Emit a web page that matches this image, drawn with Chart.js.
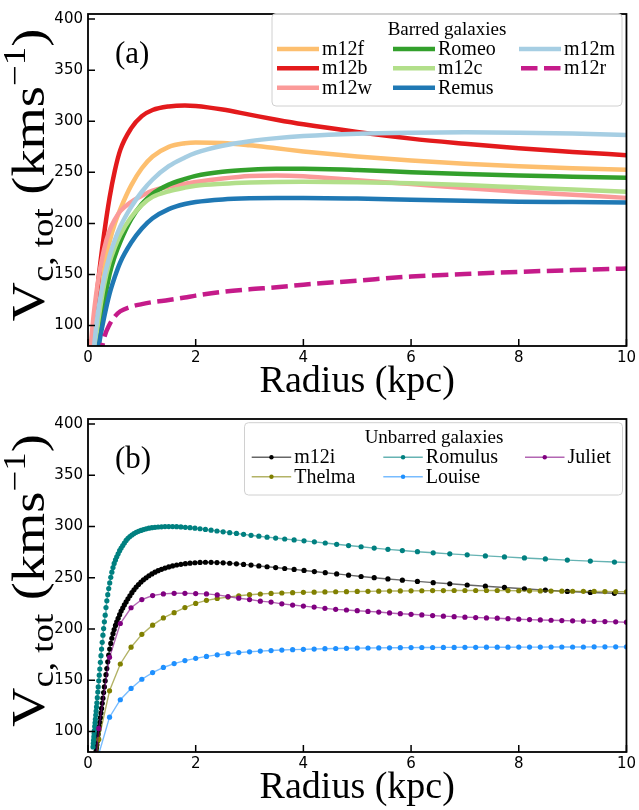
<!DOCTYPE html>
<html>
<head>
<meta charset="utf-8">
<script src="https://cdn.jsdelivr.net/npm/chart.js@4.4.0/dist/chart.umd.min.js"></script>
<style>
  html, body { margin: 0; padding: 0; background: #fff; }
  canvas { display: block; }
</style>
</head>
<body>
<canvas id="chartA" width="639" height="405"></canvas>
<canvas id="chartB" width="639" height="405"></canvas>
<script>
// ---- axes ----
const X_TICKS = [0, 2, 4, 6, 8, 10];
const Y_TICKS = [100, 150, 200, 250, 300, 350, 400];

// ---- panel (a): barred galaxies, radius in kpc, V in km/s ----
const RADIUS_A = [0.05, 0.1, 0.15, 0.2, 0.3, 0.4, 0.5, 0.6, 0.8, 1.0, 1.2, 1.5, 1.8, 2.0, 2.5, 3, 3.5, 4, 5, 6, 7, 8, 9, 10];
const M12F  = [50, 80, 105, 128, 160, 182, 200, 214, 237, 254, 265.5, 275, 278.5, 279.3, 278.8, 276.5, 273.5, 270.5, 265.5, 261.5, 258.5, 256, 254, 252.5];
const M12B  = [55, 95, 122, 148, 190, 225, 252, 272, 293, 305, 311, 314.5, 315.5, 315, 311.5, 306.5, 301.5, 297, 289.5, 283, 278, 273.5, 270, 266.8];
const M12W  = [80, 108, 130, 148, 175, 193, 204, 212, 221, 227, 232, 236, 238.8, 240.5, 244, 246.5, 247, 246.2, 242.3, 238.5, 234.6, 231, 228, 225];
const ROMEO = [20, 42, 62, 82, 122, 150, 168, 182, 204, 219, 229, 238, 243.5, 246.5, 250.5, 252.5, 253.5, 253.5, 252.3, 250.2, 248.3, 246.8, 245.7, 244.6];
const M12C  = [40, 65, 88, 108, 140, 162, 177, 189, 206, 218, 226, 231.5, 235, 236.8, 238.8, 240, 240.6, 240.7, 240.2, 239.2, 237.5, 235.3, 233.2, 231];
const REMUS = [20, 40, 60, 80, 108, 131, 148, 162, 181, 195, 205, 214, 219, 221, 223.5, 224.6, 225, 225, 224.4, 223.2, 222.2, 221.3, 220.9, 220.5];
const M12M  = [45, 72, 98, 118, 147, 168, 184, 197, 216, 231, 243, 256, 264.5, 269, 276, 280.5, 283.5, 285.5, 287.8, 288.8, 289.2, 288.8, 288, 286.6];
const M12R  = [0, 20, 40, 60, 88, 101, 109, 114, 118.5, 121, 123, 125, 127.5, 129.3, 133, 135.5, 137.5, 140, 144, 148, 150.5, 152.6, 154.3, 155.8];

const BARRED_LABELS = ['m12f', 'm12b', 'm12w', 'Romeo', 'm12c', 'Remus', 'm12m', 'm12r'];
const BARRED_VALUES = [M12F, M12B, M12W, ROMEO, M12C, REMUS, M12M, M12R];
const BARRED_COLORS = ['#fdbf6f', '#e31a1c', '#fb9a99', '#33a02c', '#b2df8a', '#1f78b4', '#a6cee3', '#c51b8a'];

// ---- panel (b): unbarred galaxies ----
// log-spaced radii of the two densely sampled curves
const RADIUS_B_DENSE = [
  0.094, 0.099, 0.104, 0.109, 0.114, 0.119, 0.125, 0.131, 0.137, 0.144,
  0.151, 0.158, 0.165, 0.173, 0.182, 0.190, 0.200, 0.209, 0.219, 0.230,
  0.241, 0.252, 0.264, 0.277, 0.290, 0.304, 0.319, 0.334, 0.350, 0.367,
  0.385, 0.403, 0.423, 0.443, 0.464, 0.486, 0.510, 0.534, 0.560, 0.587,
  0.615, 0.645, 0.675, 0.708, 0.742, 0.778, 0.815, 0.854, 0.895, 0.938,
  0.983, 1.030, 1.080, 1.131, 1.186, 1.243, 1.302, 1.365, 1.430, 1.499,
  1.571, 1.646, 1.725, 1.808, 1.895, 1.986, 2.081, 2.181, 2.286, 2.395,
  2.510, 2.631, 2.757, 2.889, 3.028, 3.173, 3.326, 3.485, 3.653, 3.828,
  4.012, 4.204, 4.406, 4.618, 4.839, 5.072, 5.315, 5.570, 5.838, 6.118,
  6.411, 6.719, 7.042, 7.380, 7.734, 8.105, 8.494, 8.902, 9.329, 9.777,
  10.246
];
const M12I = [
  null, null, null, null, null, null, 70.5, 73, 75.5, 78.5,
  81, 84, 87, 90.5, 94, 97.5, 101.5, 105, 109, 113.5,
  118, 122.5, 127.5, 132.5, 138, 143.5, 149.5, 155.5, 161.5, 168,
  174.5, 180.5, 186, 191, 195.5, 199.5, 203.5, 207, 210.5, 214,
  217.5, 220.5, 223.5, 226.5, 229.5, 232.5, 235.5, 238.3, 241, 243.5,
  245.8, 248, 250, 252, 253.8, 255.5, 257, 258.3, 259.5, 260.6,
  261.6, 262.5, 263.2, 263.8, 264.3, 264.7, 265, 265.2, 265.1, 264.9,
  264.6, 264.2, 263.7, 263.1, 262.4, 261.6, 260.8, 260, 259.1, 258.2,
  257.2, 256.1, 255, 253.8, 252.6, 251.3, 250.1, 248.9, 247.7, 246.5,
  245.3, 244.2, 243, 241.8, 240.6, 239.3, 238, 236.7, 235.7, 234.9,
  234.2
];
const ROMULUS = [
  85, 88.5, 91.5, 95, 98, 101, 105, 108.5, 112, 116,
  120, 124, 128, 133, 138.5, 143.5, 149.5, 155, 161, 167.5,
  174, 180.5, 187, 194, 200.5, 207, 213.5, 221, 227.5, 233.5,
  239.5, 245, 250.5, 255.5, 260, 264, 267.5, 270.5, 273.5, 276.5,
  279, 281.5, 284, 286.5, 288.5, 290.3, 291.8, 293.2, 294.4, 295.4,
  296.3, 297.1, 297.8, 298.4, 298.9, 299.3, 299.6, 299.8, 300, 300,
  300, 299.9, 299.7, 299.3, 298.9, 298.4, 297.9, 297.2, 296.5, 295.7,
  294.9, 294.1, 293.3, 292.4, 291.5, 290.6, 289.7, 288.8, 287.9, 287,
  286.1, 285.1, 284, 282.7, 281.5, 280.3, 279, 277.8, 276.6, 275.5,
  274.4, 273.4, 272.4, 271.4, 270.4, 269.4, 268.4, 267.3, 266.3, 265.4,
  264.5
];
// regularly sampled curves (every 0.2 kpc)
const RADIUS_B = [0, 0.2, 0.4, 0.6, 0.8, 1.0, 1.2, 1.4, 1.6, 1.8, 2.0, 2.2, 2.4, 2.6, 2.8, 3.0, 3.2, 3.4, 3.6, 3.8,
  4.0, 4.2, 4.4, 4.6, 4.8, 5.0, 5.2, 5.4, 5.6, 5.8, 6.0, 6.2, 6.4, 6.6, 6.8, 7.0, 7.2, 7.4, 7.6, 7.8,
  8.0, 8.2, 8.4, 8.6, 8.8, 9.0, 9.2, 9.4, 9.6, 9.8, 10.0];
const THELMA = [0, 92.3, 139.7, 165.9, 182.3, 194.8, 203.8, 210.9, 216, 221, 225, 228, 229.8, 231.2, 232.5, 233.5, 234.2, 234.8, 235.2, 235.5,
  235.8, 236, 236.2, 236.4, 236.5, 236.7, 236.8, 237, 237.1, 237.2, 237.3, 237.4, 237.5, 237.5, 237.6, 237.6, 237.6, 237.6, 237.6, 237.5,
  237.4, 237.3, 237.2, 237.1, 237, 236.9, 236.8, 236.7, 236.6, 236.5, 236.4];
const LOUISE = [0, 78, 114, 131, 142, 151, 157.5, 162.5, 166.3, 169.2, 171.4, 173.3, 174.8, 176, 177, 177.8, 178.5, 179, 179.5, 179.9,
  180.2, 180.5, 180.8, 181, 181.2, 181.4, 181.5, 181.6, 181.7, 181.8, 181.9, 182, 182, 182.1, 182.1, 182.2, 182.2, 182.3, 182.3, 182.3,
  182.4, 182.4, 182.4, 182.5, 182.5, 182.5, 182.5, 182.6, 182.6, 182.6, 182.6];
const JULIET = [0, 103, 172.4, 205.4, 220.8, 228.8, 232.7, 234.3, 234.9, 234.9, 234.6, 234.3, 233.3, 231.7, 230.1, 228.8, 227.2, 226.3, 224.6, 223.4,
  222.4, 221.4, 220.2, 219.2, 218.6, 217.9, 217.2, 216.6, 215.7, 215, 214.4, 213.8, 213.1, 212.6, 212.1, 211.6, 211.2, 210.9, 210.6, 210.1,
  209.6, 209.2, 208.9, 208.6, 208.3, 208, 207.7, 207.5, 207.3, 207, 206.7];

const UNBARRED_LABELS = ['m12i', 'Thelma', 'Romulus', 'Louise', 'Juliet'];
const UNBARRED_RADII  = [RADIUS_B_DENSE, RADIUS_B, RADIUS_B_DENSE, RADIUS_B, RADIUS_B];
const UNBARRED_VALUES = [M12I, THELMA, ROMULUS, LOUISE, JULIET];
const UNBARRED_COLORS = ['#000000', '#808000', '#008080', '#1e90ff', '#800080'];

function toPoints(xs, ys) {
  return xs.map((x, i) => ({ x: x, y: ys[i] })).filter(p => p.y !== null);
}

function withAlpha(hex, a) {
  const n = parseInt(hex.slice(1), 16);
  return 'rgba(' + (n >> 16) + ',' + ((n >> 8) & 255) + ',' + (n & 255) + ',' + a + ')';
}

// y title with subscript / superscript, drawn rotated and a little widened
function drawYTitle(ctx, bx, cy, size, stretch) {
  const parts = [
    { t: 'V', s: 1, dy: 0 },
    { t: 'c, tot', s: 0.68, dy: 0.2 },
    { t: ' (kms', s: 1, dy: 0 },
    { t: '\u22121', s: 0.68, dy: -0.42 },
    { t: ')', s: 1, dy: 0 }
  ];
  let total = 0;
  parts.forEach(p => {
    ctx.font = (size * p.s) + 'px "Liberation Serif"';
    p.w = ctx.measureText(p.t).width;
    total += p.w;
  });
  ctx.save();
  ctx.translate(bx, cy);
  ctx.rotate(-Math.PI / 2);
  ctx.scale(stretch, 1);
  ctx.textAlign = 'left';
  ctx.textBaseline = 'alphabetic';
  let x = -total / 2;
  parts.forEach(p => {
    ctx.font = (size * p.s) + 'px "Liberation Serif"';
    ctx.fillText(p.t, x, p.dy * size);
    x += p.w;
  });
  ctx.restore();
}

const decor = {
  id: 'decor',
  afterDraw(chart, args, opts) {
    const ctx = chart.ctx;
    const a = chart.chartArea;
    const xs = chart.scales.x, ys = chart.scales.y;
    ctx.save();
    ctx.fillStyle = '#000';
    ctx.strokeStyle = '#000';

    // frame and inward ticks
    ctx.lineWidth = 1.8;
    ctx.strokeRect(a.left, a.top, a.right - a.left, a.bottom - a.top);
    ctx.lineWidth = 1.5;
    ctx.beginPath();
    ys.ticks.forEach(t => {
      const p = ys.getPixelForValue(t.value);
      ctx.moveTo(a.left, p); ctx.lineTo(a.left + 7, p);
    });
    xs.ticks.forEach(t => {
      const p = xs.getPixelForValue(t.value);
      ctx.moveTo(p, a.bottom); ctx.lineTo(p, a.bottom - 7);
    });
    ctx.stroke();

    // axis titles
    ctx.font = '38px "Liberation Serif"';
    ctx.textAlign = 'center';
    ctx.textBaseline = 'alphabetic';
    ctx.fillText('Radius (kpc)', (a.left + a.right) / 2, a.bottom + 46);
    drawYTitle(ctx, 44, (a.top + a.bottom) / 2 - 5, 46, 1.18);

    // panel tag
    ctx.font = '31px "Liberation Serif"';
    ctx.textAlign = 'left';
    ctx.fillText(opts.tag, a.left + 27, a.top + 49);

    // legend
    const lg = opts.legend;
    ctx.beginPath();
    ctx.roundRect(lg.box[0], lg.box[1], lg.box[2], lg.box[3], 4);
    ctx.fillStyle = 'rgba(255,255,255,0.8)';
    ctx.fill();
    ctx.strokeStyle = '#d0d0d0';
    ctx.lineWidth = 1;
    ctx.stroke();
    ctx.fillStyle = '#000';
    ctx.font = '19px "Liberation Serif"';
    ctx.textAlign = 'center';
    ctx.fillText(lg.title, lg.titleX, lg.titleY);
    ctx.textAlign = 'left';
    ctx.font = '20px "Liberation Serif"';
    chart.data.datasets.forEach((ds, i) => {
      const col = Math.floor(i / lg.rows.length), row = i % lg.rows.length;
      const x0 = lg.cols[col], y = lg.rows[row];
      ctx.save();
      ctx.strokeStyle = ds.borderColor;
      ctx.lineWidth = ds.borderWidth;
      ctx.lineCap = 'butt';
      ctx.setLineDash(ds.borderDash || []);
      ctx.beginPath();
      ctx.moveTo(x0 + (ds.borderDash ? 2 : 0), y);
      ctx.lineTo(x0 + lg.handle, y);
      ctx.stroke();
      if (ds.pointRadius > 0) {
        ctx.fillStyle = ds.pointBackgroundColor;
        ctx.beginPath();
        ctx.arc(x0 + lg.handle / 2, y, ds.pointRadius * 0.85, 0, Math.PI * 2);
        ctx.fill();
      }
      ctx.restore();
      ctx.fillText(ds.label, x0 + lg.handle + 3, y + 6);
    });
    ctx.restore();
  }
};

function scaleOptions(xHeight) {
  const tickFont = { family: 'DejaVu Sans', size: 15 };
  return {
    x: {
      type: 'linear', min: 0, max: 10,
      afterBuildTicks: s => { s.ticks = X_TICKS.map(v => ({ value: v })); },
      afterFit: s => { s.height = xHeight; },
      grid: { display: false, drawTicks: false },
      border: { display: false },
      ticks: { font: tickFont, color: '#000', padding: 3, maxRotation: 0 }
    },
    y: {
      type: 'linear', min: 80, max: 405,
      afterBuildTicks: s => { s.ticks = Y_TICKS.map(v => ({ value: v })); },
      afterFit: s => { s.width = 88; },
      grid: { display: false, drawTicks: false },
      border: { display: false },
      ticks: { font: tickFont, color: '#000', padding: 5 }
    }
  };
}

const barredSets = BARRED_LABELS.map((label, i) => ({
  label: label,
  data: toPoints(RADIUS_A, BARRED_VALUES[i]),
  borderColor: BARRED_COLORS[i],
  borderWidth: 4.5,
  borderDash: label === 'm12r' ? [16.5, 6.5] : undefined,
  borderCapStyle: 'butt',
  pointRadius: 0,
  cubicInterpolationMode: 'monotone',
  fill: false,
  clip: 0,
  order: -i
}));

new Chart(document.getElementById('chartA'), {
  type: 'line',
  data: { datasets: barredSets },
  options: {
    responsive: false,
    animation: false,
    events: [],
    layout: { padding: { left: 0, right: 11, top: 7, bottom: 0 } },
    scales: scaleOptions(59),
    plugins: {
      legend: { display: false },
      tooltip: { enabled: false },
      decor: {
        tag: '(a)',
        legend: {
          title: 'Barred galaxies', titleX: 447, titleY: 35,
          box: [272, 13.5, 350, 92.5],
          cols: [277, 393, 519], rows: [49, 68.3, 87.7], handle: 42
        }
      }
    }
  },
  plugins: [decor]
});

const unbarredSets = UNBARRED_LABELS.map((label, i) => ({
  label: label,
  data: toPoints(UNBARRED_RADII[i], UNBARRED_VALUES[i]),
  borderColor: withAlpha(UNBARRED_COLORS[i], 0.6),
  borderWidth: 1.4,
  pointRadius: 2.6,
  pointBorderWidth: 0,
  pointBackgroundColor: UNBARRED_COLORS[i],
  tension: 0,
  fill: false,
  clip: 0,
  order: -i
}));

new Chart(document.getElementById('chartB'), {
  type: 'line',
  data: { datasets: unbarredSets },
  options: {
    responsive: false,
    animation: false,
    events: [],
    layout: { padding: { left: 0, right: 11, top: 9, bottom: 0 } },
    scales: scaleOptions(58),
    plugins: {
      legend: { display: false },
      tooltip: { enabled: false },
      decor: {
        tag: '(b)',
        legend: {
          title: 'Unbarred galaxies', titleX: 434, titleY: 38.3,
          box: [244.5, 17.7, 378, 72.3],
          cols: [251.7, 383.3, 525], rows: [52.3, 71.7], handle: 39.5
        }
      }
    }
  },
  plugins: [decor]
});
</script>
</body>
</html>
